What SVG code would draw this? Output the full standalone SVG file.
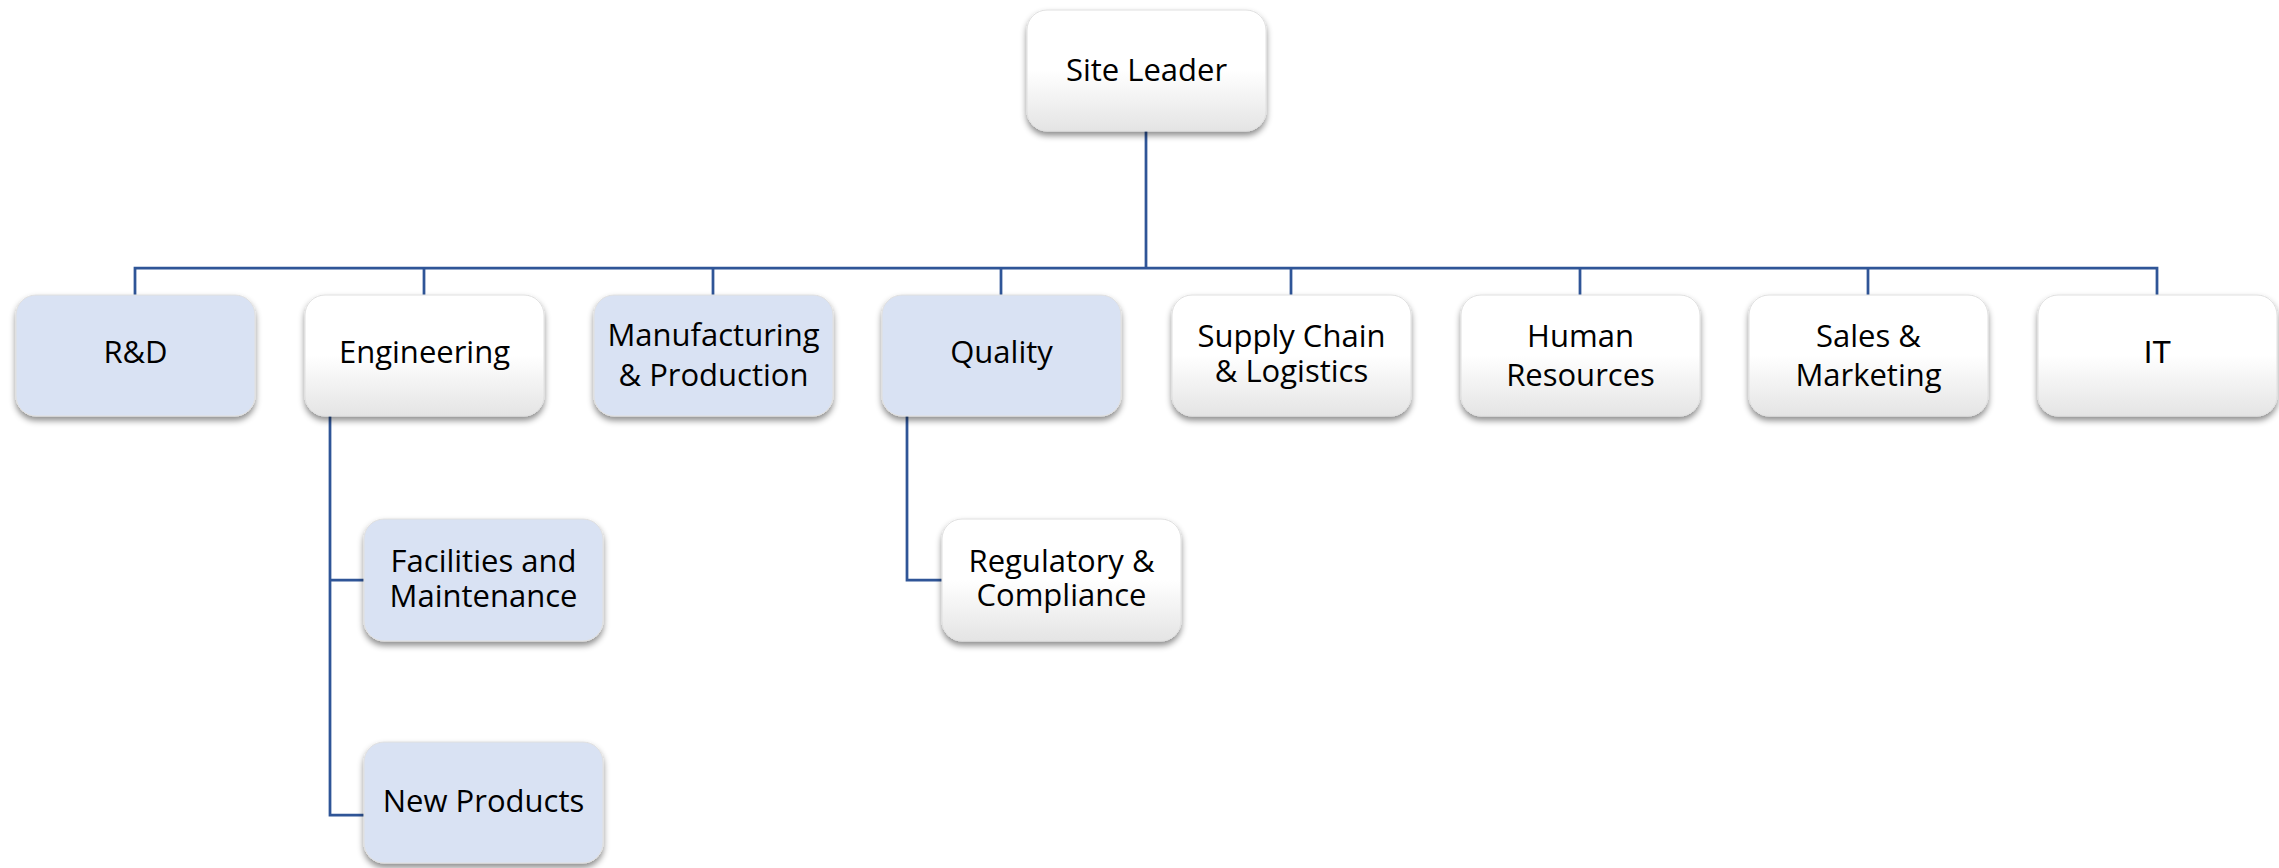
<svg xmlns="http://www.w3.org/2000/svg" width="2279" height="868" viewBox="0 0 2279 868">
<defs>
<linearGradient id="wg" x1="0" y1="0" x2="0" y2="1">
<stop offset="0" stop-color="#FFFFFF"/>
<stop offset="0.5" stop-color="#FFFFFF"/>
<stop offset="1" stop-color="#E4E4E4"/>
</linearGradient>
<filter id="sh" x="-10%" y="-10%" width="120%" height="130%">
<feDropShadow dx="0" dy="4" stdDeviation="3" flood-color="#000000" flood-opacity="0.45"/>
</filter>
</defs>
<style>
.box{stroke:#E0E0E0;stroke-width:1;filter:url(#sh);}
.blue{fill:#D9E2F3;}
.white{fill:url(#wg);}
.lbl{font-family:"Open Sans","DejaVu Sans",sans-serif;font-size:31px;fill:#000000;text-anchor:middle;}
.ar{font-family:"Liberation Sans",Arial,sans-serif;}
.conn{fill:none;stroke:#2F5597;stroke-width:2.75;}
</style>
<rect width="2279" height="868" fill="#FFFFFF"/>
<g id="connectors" class="conn">
<path d="M1146 131V268"/>
<path d="M135 295V268H2157V295"/>
<path d="M424 268V295"/>
<path d="M713 268V295"/>
<path d="M1001 268V295"/>
<path d="M1291 268V295"/>
<path d="M1580 268V295"/>
<path d="M1868 268V295"/>
<path d="M330 416V815H364"/>
<path d="M330 580H364"/>
<path d="M907 416V580H942"/>
</g>
<g id="site-leader"><rect class="box white" x="1027" y="10" width="239" height="121" rx="20"/><text class="lbl" x="1146.5" y="81">Site Leader</text></g>
<g id="rd"><rect class="box blue" x="16" y="295" width="239" height="121" rx="20"/><text class="lbl" x="135.5" y="363">R&amp;D</text></g>
<g id="engineering"><rect class="box white" x="305" y="295" width="239" height="121" rx="20"/><text class="lbl" x="424.5" y="363">Engineering</text></g>
<g id="manufacturing"><rect class="box blue" x="594" y="295" width="239" height="121" rx="20"/><text class="lbl" x="713.5" y="346">Manufacturing</text><text class="lbl" x="713.5" y="386">&amp; Production</text></g>
<g id="quality"><rect class="box blue" x="882" y="295" width="239" height="121" rx="20"/><text class="lbl" x="1001.5" y="363">Quality</text></g>
<g id="supply-chain"><rect class="box white" x="1172" y="295" width="239" height="121" rx="20"/><text class="lbl" x="1291.5" y="347">Supply Chain</text><text class="lbl" x="1291.5" y="382">&amp; Logistics</text></g>
<g id="human-resources"><rect class="box white" x="1461" y="295" width="239" height="121" rx="20"/><text class="lbl" x="1580.5" y="347">Human</text><text class="lbl" x="1580.5" y="386">Resources</text></g>
<g id="sales-marketing"><rect class="box white" x="1749" y="295" width="239" height="121" rx="20"/><text class="lbl" x="1868.5" y="347">Sales &amp;</text><text class="lbl" x="1868.5" y="386">Marketing</text></g>
<g id="it"><rect class="box white" x="2038" y="295" width="239" height="121" rx="20"/><text class="lbl ar" x="2157.5" y="363">IT</text></g>
<g id="facilities"><rect class="box blue" x="364" y="519" width="239" height="122" rx="20"/><text class="lbl" x="483.5" y="572">Facilities and</text><text class="lbl" x="483.5" y="607">Maintenance</text></g>
<g id="new-products"><rect class="box blue" x="364" y="742" width="239" height="121" rx="20"/><text class="lbl" x="483.5" y="812">New Products</text></g>
<g id="regulatory"><rect class="box white" x="942" y="519" width="239" height="122" rx="20"/><text class="lbl" x="1061.5" y="572">Regulatory &amp;</text><text class="lbl" x="1061.5" y="606">Compliance</text></g>
</svg>
